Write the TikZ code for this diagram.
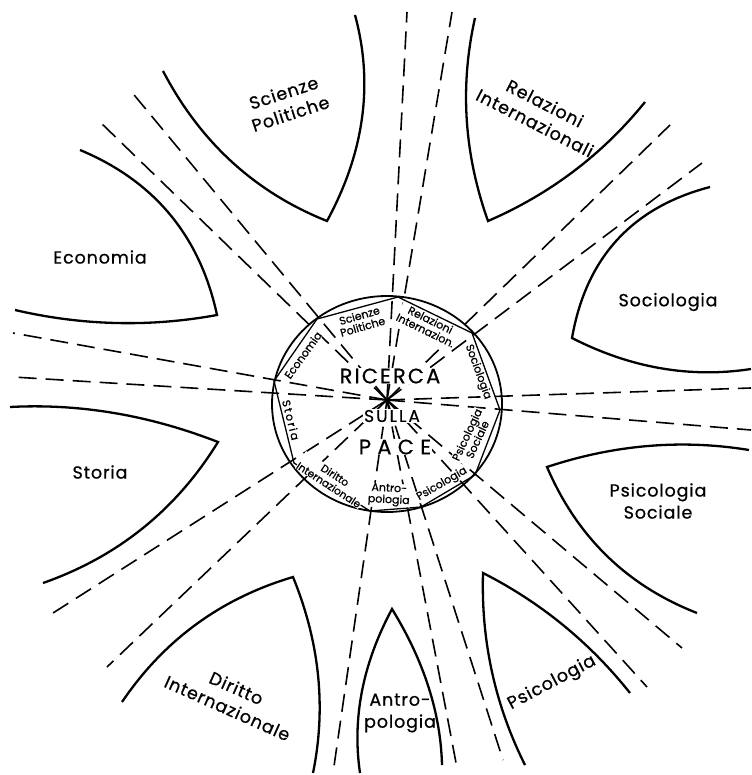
\documentclass[tikz,border=0pt]{standalone}
\usepackage{fontspec}
\setmainfont{Poppins}
\usetikzlibrary{calc}
\newcommand{\regioncurve}[5]{%
  \draw[region] (#1) .. controls ($(#1)!2/3!(#2)$) and ($(#3)!2/3!(#2)$) .. (#3)
    .. controls ($(#3)!2/3!(#4)$) and ($(#5)!2/3!(#4)$) .. (#5);}
\begin{document}
\begin{tikzpicture}[x=1pt,y=-1pt,
  region/.style={line width=2.3pt, line join=miter},
  ray/.style={line width=1.6pt, dash pattern=on 18pt off 9pt},
  outerlbl/.style={font=\fontsize{17.5}{22}\selectfont\addfontfeatures{LetterSpace=5,FakeBold=0.6}, align=center, inner sep=0pt},
  innerlbl/.style={font=\fontsize{11}{11.5}\selectfont\addfontfeatures{FakeBold=0.8}, align=center, inner sep=0.4pt, fill=white},
  biglbl/.style={font=\fontsize{21}{21}\selectfont\addfontfeatures{LetterSpace=10,FakeBold=0.5}, inner sep=1pt, fill=white},
]
\useasboundingbox (0,0) rectangle (751,775);
% centre and ray ends
\coordinate (C) at (387,400);
\coordinate (r1) at (130,90);
\coordinate (r2) at (100,122);
\coordinate (r3) at (13,333);
\coordinate (r4) at (13,377);
\coordinate (r5) at (53,613);
\coordinate (r6) at (107,667);
\coordinate (r7) at (333,773);
\coordinate (r8) at (457,768);
\coordinate (r9) at (503,760);
\coordinate (r10) at (647,687);
\coordinate (r11) at (682,648);
\coordinate (r12) at (751,388);
\coordinate (r13) at (751,430);
\coordinate (r14) at (702,163);
\coordinate (r15) at (670,125);
\coordinate (r16) at (452,12);
\coordinate (r17) at (407,12);
\foreach \i in {1,...,17} \draw[ray] (C) -- (r\i);
% nonagon vertices
\coordinate (V1) at (317,319);
\coordinate (V2) at (398,297);
\coordinate (V3) at (472,333);
\coordinate (V4) at (500,410);
\coordinate (V5) at (475,475);
\coordinate (V6) at (421,507);
\coordinate (V7) at (370,511);
\coordinate (V8) at (294,463);
\coordinate (V9) at (274,381);
\draw[line width=1.8pt] (387,404) ellipse [x radius=115, y radius=108];
\draw[line width=1.3pt, line join=round] (V1) -- (V2) -- (V3) -- (V4) -- (V5) -- (V6) -- (V7) -- (V8) -- (V9) -- cycle;
% outer regions: end, control, cusp, control, end
\regioncurve{163,71}{219,178}{327,221}{383,118}{355,15}
\regioncurve{475,18}{452,120}{488,221}{581.5,180.5}{645,102}
\regioncurve{710,187}{593,217.5}{572,338}{660,383}{751,369}
\regioncurve{749,450}{648,433.5}{547,467}{592,572}{697,613}
\regioncurve{630,693}{569.5,617}{483,573}{480,675}{525,765}
\regioncurve{360,773}{348,691}{392,609}{440,687}{442,765}
\regioncurve{313,773}{333,675}{293,577}{185,609}{122,702}
\regioncurve{43,583}{155.5,543.5}{218,442}{114,401.5}{10,407}
\regioncurve{15,310}{116,333.5}{217,315}{191.5,196.5}{80,150}
% outer labels
\node[outerlbl, rotate=18] (oSci) at (287,103) {Scienze\\Politiche};
\node[outerlbl, rotate=-27] (oRel) at (540,113) {Relazioni\\Internazionali};
\node[outerlbl] (oSoc) at (668,302) {Sociologia};
\node[outerlbl] (oPsS) at (658,501) {Psicologia\\Sociale};
\node[outerlbl, rotate=28] (oPsi) at (552,683) {Psicologia};
\node[outerlbl] (oAnt) at (400,713) {Antro-\\pologia};
\node[outerlbl, rotate=-24] (oDir) at (232,698) {Diritto\\Internazionale};
\node[outerlbl] (oSto) at (100,472) {Storia};
\node[outerlbl] (oEco) at (100,257) {Economia};
% inner labels
\node[innerlbl, rotate=54] (iEco) at (303,355) {Economia};
\node[innerlbl, rotate=16] (iSci) at (361,321) {Scienze\\Politiche};
\node[innerlbl, rotate=-26] (iRel) at (428,325) {Relazioni\\Internazion.};
\node[innerlbl, rotate=-70] (iSoc) at (478,372) {Sociologia};
\node[innerlbl, rotate=65] (iPsS) at (472,437) {Psicologia\\Sociale};
\node[innerlbl, rotate=30] (iPsi) at (442,484) {Psicologia};
\node[innerlbl, rotate=-3] (iAnt) at (389,495) {Antro-\\pologia};
\node[innerlbl, rotate=-33, font=\fontsize{10.5}{11.5}\selectfont\addfontfeatures{FakeBold=0.8}] (iDir) at (332,480) {Diritto\\Internazionale};
\node[innerlbl, rotate=-76] (iSto) at (291,420) {S\,t\,o\,r\,i\,a};
% centre text
\node[biglbl] (ric) at (390,376) {RICERCA};
\node[biglbl, font=\fontsize{17}{17}\selectfont\addfontfeatures{LetterSpace=12,FakeBold=0.5}] (sul) at (392,416) {SULLA};
\node[biglbl, font=\fontsize{21}{21}\selectfont\addfontfeatures{LetterSpace=30,FakeBold=0.5}] (pac) at (395,447) {PACE};
\end{tikzpicture}
\end{document}
